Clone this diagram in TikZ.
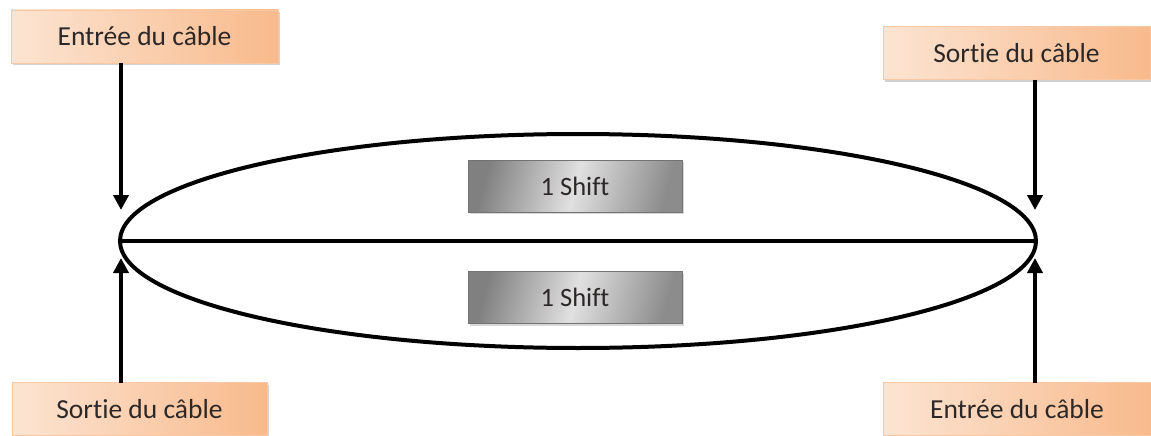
\documentclass[tikz,border=0pt]{standalone}
\usepackage{fontspec}
\setmainfont[Ligatures=NoCommon]{Carlito}
\usetikzlibrary{shapes.geometric,shadows,arrows.meta}
\definecolor{peachL}{RGB}{252,228,210}
\definecolor{peachR}{RGB}{248,186,140}
\definecolor{txt}{RGB}{45,40,40}
\begin{document}
\begin{tikzpicture}[x=1pt,y=-1pt,
  cablebox/.style={rectangle, inner sep=0pt, outer sep=0pt, minimum height=53pt,
    left color=peachL, right color=peachR, draw=peachR!80!white, line width=0.6pt,
    drop shadow={shadow xshift=1.5pt, shadow yshift=-2pt, fill=black!35, opacity=0.5},
    font=\fontsize{27.5}{32}\selectfont, text=txt},
  shiftbox/.style={rectangle, inner sep=0pt, outer sep=0pt, minimum width=214pt, minimum height=52pt,
    left color=black!50, right color=black!45, middle color=black!12, shading angle=75,
    draw=black!55, line width=0.8pt,
    drop shadow={shadow xshift=1.5pt, shadow yshift=-2pt, fill=black!30, opacity=0.5},
    font=\fontsize{26.5}{30}\selectfont, text=txt},
  thick line/.style={line width=4pt, black},
  arr/.style={line width=4pt, black, -{Triangle[length=15pt,width=15pt]}}
]
\useasboundingbox (0,0) rectangle (1151,436);
\fill[white] (0,0) rectangle (1151,436);

% ellipse
\node[ellipse, draw, line width=4pt, inner sep=0pt, outer sep=0pt,
  minimum width=916pt, minimum height=214pt] (ell) at (578,241) {};
\draw[thick line] (ell.west) -- (ell.east);

% shift boxes
\node[shiftbox] (s1) at (575,186) {1 Shift};
\node[shiftbox] (s2) at (575,297.5) {1 Shift};

% cable boxes
\node[cablebox, minimum width=267pt] (inTL) at (144.5,36.5) {Entrée du câble};
\node[cablebox, minimum width=267pt] (outTR) at (1016.5,53) {Sortie du câble};
\node[cablebox, minimum width=255pt] (outBL) at (139.5,409) {Sortie du câble};
\node[cablebox, minimum width=268pt] (inBR) at (1017,409) {Entrée du câble};

% arrow end points
\coordinate (tl) at (121,210);
\coordinate (bl) at (121,258);
\coordinate (tr) at (1035,210);
\coordinate (br) at (1035,258);

\draw[arr] (inTL.south -| tl) -- (tl);
\draw[arr] (outBL.north -| bl) -- (bl);
\draw[arr] (outTR.south -| tr) -- (tr);
\draw[arr] (inBR.north -| br) -- (br);
\end{tikzpicture}
\end{document}
